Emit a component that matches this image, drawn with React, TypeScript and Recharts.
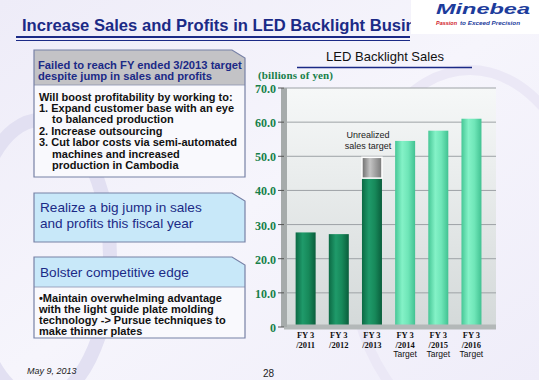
import React from 'react';
import { BarChart, Bar, XAxis, YAxis, CartesianGrid, LabelList } from 'recharts';

// LED backlight sales, billions of yen
const fiscalYears = ['2011', '2012', '2013', '2014', '2015', '2016'];
const isTargetYear = [false, false, false, true, true, true];
const actualSales = [27.7, 27.2, 43.6, null, null, null];
const missedTarget = [null, null, 49.7, null, null, null];
const targetSales = [null, null, null, 54.5, 57.5, 61.0];
const yTicks = [0, 10, 20, 30, 40, 50, 60, 70];

const chartData = fiscalYears.map((fy, i) => {
  const actual = actualSales[i];
  const missed = missedTarget[i];
  return {
    fy,
    target: isTargetYear[i],
    actual: actual ?? 0,
    shortfall: missed != null && actual != null ? +(missed - actual).toFixed(1) : 0,
    planned: targetSales[i] ?? 0,
  };
});

const NAVY = '#1b2a86';
const GREEN = '#17804a';
const SANS = '"Liberation Sans", Arial, sans-serif';
const SERIF = '"Liberation Serif", "Times New Roman", serif';

const Cylinder = (props: any) => {
  const { x, y, width, height, grad, edge } = props;
  if (!height || height <= 0) return null;
  return (
    <rect
      x={x}
      y={y}
      width={width}
      height={height}
      fill={`url(#${grad})`}
      stroke={edge || 'none'}
      strokeWidth={edge ? 1.5 : 0}
    />
  );
};

const YTick = (props: any) => {
  const { x, y, payload } = props;
  const v = payload.value;
  return (
    <text x={x} y={y + 5} textAnchor="end" fontFamily={SERIF} fontWeight="bold" fontSize={12} fill={GREEN}>
      {v === 0 ? '0' : v.toFixed(1)}
    </text>
  );
};

const XTick = (props: any) => {
  const { x, y, payload, index } = props;
  return (
    <g>
      <text x={x} y={y + 11} textAnchor="middle" fontFamily={SERIF} fontWeight="bold" fontSize={8.5} fill="#111">
        FY 3
      </text>
      <text x={x} y={y + 20.5} textAnchor="middle" fontFamily={SERIF} fontWeight="bold" fontSize={8.5} fill="#111">
        /{payload.value}
      </text>
      {isTargetYear[index] && (
        <text x={x} y={y + 30} textAnchor="middle" fontFamily={SANS} fontSize={8.5} fill="#111">
          Target
        </text>
      )}
    </g>
  );
};

const ShortfallLabel = (props: any) => {
  const { x, y, width, value } = props;
  if (!value) return null;
  const cx = x + width / 2 - 4;
  return (
    <g fontFamily={SANS} fontSize={9} fill="#222">
      <text x={cx} y={y - 19} textAnchor="middle">Unrealized</text>
      <text x={cx} y={y - 8} textAnchor="middle">sales target</text>
    </g>
  );
};

const Box = ({ top, bottom, header, headFill, bodyFill }: any) => {
  const l = 34, r = 245, cut = 13;
  const outline = `${l},${top} ${r - cut},${top} ${r},${top + 8} ${r},${bottom} ${l},${bottom}`;
  return (
    <g>
      <polygon points={outline} fill={bodyFill} />
      {header && (
        <polygon points={`${l},${top} ${r - cut},${top} ${r},${top + 8} ${r},${header} ${l},${header}`} fill={headFill} />
      )}
      {header && <line x1={l} y1={header} x2={r} y2={header} stroke="#8a93b0" strokeWidth={0.8} />}
      <polygon points={outline} fill="none" stroke="#7781a6" strokeWidth={1.2} />
    </g>
  );
};

const Slide = () => (
  <svg width={539} height={380} style={{ position: 'absolute', left: 0, top: 0 }}>
    <defs>
      <linearGradient id="bg" x1="0" y1="0" x2="1" y2="1">
        <stop offset="0%" stopColor="#eeecf8" />
        <stop offset="50%" stopColor="#f6f5fc" />
        <stop offset="100%" stopColor="#efedf9" />
      </linearGradient>
    </defs>
    <rect width={539} height={380} fill="url(#bg)" />
    <ellipse cx={40} cy={260} rx={70} ry={140} fill="none" stroke="#e2e0f2" strokeWidth={14} />
    <ellipse cx={470} cy={250} rx={120} ry={180} fill="none" stroke="#ebe8f6" strokeWidth={10} />

    {/* slide title (cut off by the logo panel in the original) */}
    <text x={22} y={31} fontFamily={SANS} fontWeight="bold" fontSize={16.6} fill={NAVY}>
      Increase Sales and Profits in LED Backlight Busin
    </text>
    <line x1={16} y1={37} x2={410} y2={37} stroke={NAVY} strokeWidth={2} />
    <line x1={16} y1={40.5} x2={410} y2={40.5} stroke={NAVY} strokeWidth={1} />
    <rect x={411} y={0} width={128} height={34} fill="#ffffff" />
    <text x={436} y={14} fontFamily={SANS} fontWeight="bold" fontStyle="italic" fontSize={15} fill="#1d3c9c" textLength={94} lengthAdjust="spacingAndGlyphs">
      Minebea
    </text>
    <text x={436} y={25} fontFamily={SANS} fontStyle="italic" fontWeight="bold" fontSize={6} fill="#d0202a" textLength={21} lengthAdjust="spacingAndGlyphs">
      Passion
    </text>
    <text x={460} y={25} fontFamily={SANS} fontStyle="italic" fontWeight="bold" fontSize={6} fill="#1d3c9c" textLength={60} lengthAdjust="spacingAndGlyphs">
      to Exceed Precision
    </text>

    {/* box 1 */}
    <Box top={50} bottom={177} header={85} headFill="#c3c3c6" bodyFill="#f9f9fd" />
    <g fontFamily={SANS} fontWeight="bold" fontSize={11.2} fill={NAVY}>
      <text x={38} y={69}>Failed to reach FY ended 3/2013 target</text>
      <text x={38} y={80}>despite jump in sales and profits</text>
    </g>
    <g fontFamily={SANS} fontWeight="bold" fontSize={11} fill="#111">
      <text x={39} y={101}>Will boost profitability by working to:</text>
      <text x={39} y={112}>1. Expand customer base with an eye</text>
      <text x={52} y={123}>to balanced production</text>
      <text x={39} y={134.5}>2. Increase outsourcing</text>
      <text x={39} y={146}>3. Cut labor costs via semi-automated</text>
      <text x={52} y={157.5}>machines and increased</text>
      <text x={52} y={169}>production in Cambodia</text>
    </g>

    {/* box 2 */}
    <Box top={193} bottom={242} bodyFill="#c8e8f9" />
    <g fontFamily={SANS} fontSize={13.6} fill={NAVY}>
      <text x={40} y={212}>Realize a big jump in sales</text>
      <text x={40} y={227.5}>and profits this fiscal year</text>
    </g>

    {/* box 3 */}
    <Box top={257} bottom={338} header={287} headFill="#c8e8f9" bodyFill="#f9f9fd" />
    <text x={40} y={277} fontFamily={SANS} fontSize={13.6} fill={NAVY}>Bolster competitive edge</text>
    <g fontFamily={SANS} fontWeight="bold" fontSize={11} fill="#111">
      <text x={39} y={302}>•Maintain overwhelming advantage</text>
      <text x={39} y={313}>with the light guide plate molding</text>
      <text x={39} y={324}>technology -&gt; Pursue techniques to</text>
      <text x={39} y={335}>make thinner plates</text>
    </g>

    {/* chart heading */}
    <text x={385} y={61} textAnchor="middle" fontFamily={SANS} fontSize={13} fill="#111">
      LED Backlight Sales
    </text>
    <line x1={297} y1={67.5} x2={472} y2={67.5} stroke={NAVY} strokeWidth={1.3} />
    <text x={258} y={79} fontFamily={SERIF} fontWeight="bold" fontSize={11} fill={GREEN} textLength={75}>
      (billions of yen)
    </text>

    {/* footer */}
    <text x={27} y={374} fontFamily={SANS} fontStyle="italic" fontSize={9} fill="#222">May 9, 2013</text>
    <text x={263} y={377} fontFamily={SANS} fontSize={10} fill="#222">28</text>
  </svg>
);

const Gradients = () => (
  <svg width={0} height={0} style={{ position: 'absolute' }}>
    <defs>
      <linearGradient id="wallGrad" x1="0" y1="0" x2="0" y2="1">
        <stop offset="0%" stopColor="#f6f8f8" />
        <stop offset="100%" stopColor="#d4d9d9" />
      </linearGradient>
      <linearGradient id="darkGrad" x1="0" y1="0" x2="1" y2="0">
        <stop offset="0%" stopColor="#0c6a44" />
        <stop offset="35%" stopColor="#1f9a6a" />
        <stop offset="65%" stopColor="#17895a" />
        <stop offset="100%" stopColor="#0a5e3c" />
      </linearGradient>
      <linearGradient id="lightGrad" x1="0" y1="0" x2="1" y2="0">
        <stop offset="0%" stopColor="#46c796" />
        <stop offset="35%" stopColor="#84f2c7" />
        <stop offset="65%" stopColor="#6fe6b8" />
        <stop offset="100%" stopColor="#42c292" />
      </linearGradient>
      <linearGradient id="grayGrad" x1="0" y1="0" x2="1" y2="0">
        <stop offset="0%" stopColor="#6c6c6c" />
        <stop offset="40%" stopColor="#c4c4c4" />
        <stop offset="100%" stopColor="#777777" />
      </linearGradient>
    </defs>
  </svg>
);

export default function App() {
  return (
    <div style={{ position: 'absolute', left: 0, top: 0, width: 539, height: 380, overflow: 'hidden' }}>
      <Gradients />
      <Slide />
      <div style={{ position: 'absolute', left: 248, top: 80 }}>
        <BarChart
          width={260}
          height={290}
          data={chartData}
          margin={{ top: 8, right: 12, bottom: 13, left: 0 }}
          barCategoryGap="20%"
        >
          <CartesianGrid vertical={false} stroke="#9da2a6" fill="url(#wallGrad)" />
          <XAxis
            dataKey="fy"
            height={30}
            padding={{ left: 5, right: 8 }}
            axisLine={{ stroke: '#b3b8b8', strokeWidth: 5 }}
            tickLine={false}
            tickSize={0}
            tickMargin={0}
            tick={<XTick />}
            interval={0}
          />
          <YAxis
            width={36}
            domain={[0, 70]}
            ticks={yTicks}
            axisLine={{ stroke: '#a6abab', strokeWidth: 6 }}
            tickLine={{ stroke: '#555', strokeWidth: 1 }}
            tickSize={6}
            tickMargin={2}
            tick={<YTick />}
            interval={0}
          />
          <Bar dataKey="actual" stackId="s" isAnimationActive={false} shape={(p: any) => <Cylinder {...p} grad="darkGrad" />} />
          <Bar dataKey="shortfall" stackId="s" isAnimationActive={false} shape={(p: any) => <Cylinder {...p} grad="grayGrad" edge="#ffffff" />}>
            <LabelList dataKey="shortfall" content={<ShortfallLabel />} />
          </Bar>
          <Bar dataKey="planned" stackId="s" isAnimationActive={false} shape={(p: any) => <Cylinder {...p} grad="lightGrad" />} />
        </BarChart>
      </div>
    </div>
  );
}
